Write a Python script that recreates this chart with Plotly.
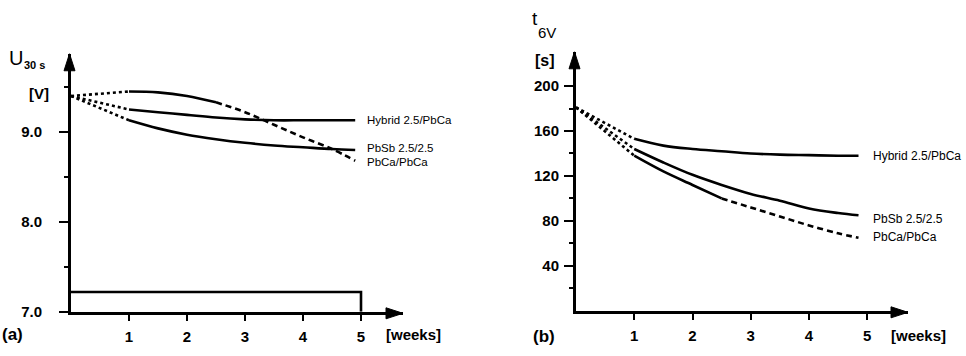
import plotly.graph_objects as go

W, H = 966, 356

# ---------------- data ----------------
series_names = ["Hybrid 2.5/PbCa", "PbSb 2.5/2.5", "PbCa/PbCa"]

# (a) U30s [V] vs weeks
weeks_a = [0, 1, 1.5, 2, 2.5, 3, 3.5, 4, 4.5, 4.9]
u_hybrid = [9.40, 9.25, 9.22, 9.19, 9.16, 9.14, 9.13, 9.13, 9.13, 9.13]
u_pbsb = [9.40, 9.13, 9.04, 8.97, 8.92, 8.88, 8.85, 8.83, 8.81, 8.80]
u_pbca = [9.40, 9.45, 9.44, 9.40, 9.33, 9.22, 9.08, 8.94, 8.81, 8.68]
rect_weeks = [0, 5, 5]
rect_u = [7.22, 7.22, 7.0]

# (b) t6V [s] vs weeks
weeks_b = [0, 1, 1.5, 2, 2.5, 3, 3.5, 4, 4.5, 4.85]
t_hybrid = [181, 153, 147, 144, 142, 140, 139, 138.5, 138, 138]
t_pbsb = [181, 144, 132, 121, 112, 104, 98, 91, 87, 85]
t_pbca = [181, 138, 124, 112, 100, 92, 84, 76, 69, 65]

xticks = [1, 2, 3, 4, 5]
u_ticks = [7.0, 8.0, 9.0]
u_ticktext = ["7.0", "8.0", "9.0"]
u_minor = [7.5, 8.5, 9.5]
t_ticks = [40, 80, 120, 160, 200]
t_minor = [20, 60, 100, 140, 180]

# ---------------- layout geometry (pixels) ----------------
AX0, AX1, AY0, AY1 = 71, 403, 319, 55
AXR = [0, (AX1 - AX0) / 58.0]
AYR = [7.0, 7.0 + (AY0 - AY1) / 92.0]
BX0, BX1, BY0, BY1 = 576, 908, 318, 53
BXR = [0, (BX1 - BX0) / 58.25]
BYR = [0, (BY0 - BY1) / 1.15]

FONT = "Liberation Sans, Arial, sans-serif"
LW = 2.6


def px(x, y):
    return x / W, 1 - y / H


def seg_traces(xs, ys, xa, ya, dash_from=None):
    out = []
    out.append(go.Scatter(x=xs[:2], y=ys[:2], mode="lines", xaxis=xa, yaxis=ya,
                          line=dict(color="black", width=LW, dash="dot"),
                          showlegend=False, hoverinfo="skip"))
    end = len(xs) if dash_from is None else next(i for i, v in enumerate(xs) if v >= dash_from) + 1
    out.append(go.Scatter(x=xs[1:end], y=ys[1:end], mode="lines", xaxis=xa, yaxis=ya,
                          line=dict(color="black", width=LW, shape="spline"),
                          showlegend=False, hoverinfo="skip"))
    if dash_from is not None:
        out.append(go.Scatter(x=xs[end - 1:], y=ys[end - 1:], mode="lines", xaxis=xa, yaxis=ya,
                              line=dict(color="black", width=LW, dash="6px,4px", shape="spline"),
                              showlegend=False, hoverinfo="skip"))
    return out


fig = go.Figure()
for t in (seg_traces(weeks_a, u_hybrid, "x", "y") + seg_traces(weeks_a, u_pbsb, "x", "y")
          + seg_traces(weeks_a, u_pbca, "x", "y", dash_from=2.5)):
    fig.add_trace(t)
fig.add_trace(go.Scatter(x=rect_weeks, y=rect_u, mode="lines", xaxis="x", yaxis="y",
                         line=dict(color="black", width=LW), showlegend=False, hoverinfo="skip"))
for t in (seg_traces(weeks_b, t_hybrid, "x2", "y2") + seg_traces(weeks_b, t_pbsb, "x2", "y2")
          + seg_traces(weeks_b, t_pbca, "x2", "y2", dash_from=2.5)):
    fig.add_trace(t)

tickfont = dict(family=FONT, size=15, color="black", weight="bold")
common_x = dict(tickvals=xticks, ticks="outside", ticklen=6, tickwidth=2, tickcolor="black",
                showline=True, linewidth=3, linecolor="black", showgrid=False, zeroline=False,
                tickfont=tickfont, ticklabelstandoff=3)
common_y = dict(ticks="outside", ticklen=9, tickwidth=2, tickcolor="black",
                showline=True, linewidth=3, linecolor="black", showgrid=False, zeroline=False,
                tickfont=tickfont)

fig.update_layout(
    width=W, height=H, margin=dict(l=0, r=0, t=0, b=0),
    paper_bgcolor="white", plot_bgcolor="white", showlegend=False,
    xaxis=dict(domain=[AX0 / W, AX1 / W], range=AXR, anchor="y", **common_x),
    yaxis=dict(domain=[1 - AY0 / H, 1 - AY1 / H], range=AYR, anchor="x",
               tickvals=u_ticks, ticktext=u_ticktext, ticklabelstandoff=14,
               minor=dict(tickvals=u_minor, ticks="outside", ticklen=4, tickwidth=2, tickcolor="black"),
               **common_y),
    xaxis2=dict(domain=[BX0 / W, BX1 / W], range=BXR, anchor="y2", **common_x),
    yaxis2=dict(domain=[1 - BY0 / H, 1 - BY1 / H], range=BYR, anchor="x2",
                tickvals=t_ticks, ticklabelstandoff=2,
                minor=dict(tickvals=t_minor, ticks="outside", ticklen=4, tickwidth=2, tickcolor="black"),
                **common_y),
)

shapes = []
for (x0, y0, x1, y1) in [(AX0, AY0, AX1, AY1), (BX0, BY0, BX1, BY1)]:
    ax_, ay_ = px(x0 - 1.5, y1)
    shapes.append(dict(type="path", xref="paper", yref="paper", xsizemode="pixel", ysizemode="pixel",
                       xanchor=ax_, yanchor=ay_, path="M0,0 L-5.5,-17 L5.5,-17 Z",
                       fillcolor="black", line=dict(color="black", width=1)))
    bx_, by_ = px(x1, y0 + 1.5)
    shapes.append(dict(type="path", xref="paper", yref="paper", xsizemode="pixel", ysizemode="pixel",
                       xanchor=bx_, yanchor=by_, path="M0,0 L-17,5.5 L-17,-5.5 Z",
                       fillcolor="black", line=dict(color="black", width=1)))
fig.update_layout(shapes=shapes)

ann = []


def text(s, x, y, size, xanchor="left", bold=True):
    xp, yp = px(x, y)
    ann.append(dict(text=s, x=xp, y=yp, xref="paper", yref="paper",
                    xanchor=xanchor, yanchor="middle", showarrow=False,
                    font=dict(family=FONT, size=size, color="black",
                              weight="bold" if bold else "normal")))


text("U", 7, 59, 20, bold=False)
text("30 s", 22, 67, 11)
text("[V]", 27, 96, 15)
text("t", 530, 19, 19, bold=False)
text("6V", 536, 33, 15, bold=False)
text("[s]", 533, 62, 16)
text("(a)", 0, 342, 17)
text("(b)", 531, 344, 17)
text("[weeks]", 384, 342, 15)
text("[weeks]", 889, 343, 15)

for name, yv in zip(series_names, [9.135, 8.825, 8.665]):
    ann.append(dict(text=name, x=5.07, y=yv, xref="x", yref="y", xanchor="left", yanchor="middle",
                    showarrow=False, font=dict(family=FONT, size=11.5, color="black")))
for name, yv in zip(series_names, [137.4, 81.5, 66]):
    ann.append(dict(text=name, x=5.06, y=yv, xref="x2", yref="y2", xanchor="left", yanchor="middle",
                    showarrow=False, font=dict(family=FONT, size=12, color="black")))
fig.update_layout(annotations=ann)

fig.write_html("out.html")
